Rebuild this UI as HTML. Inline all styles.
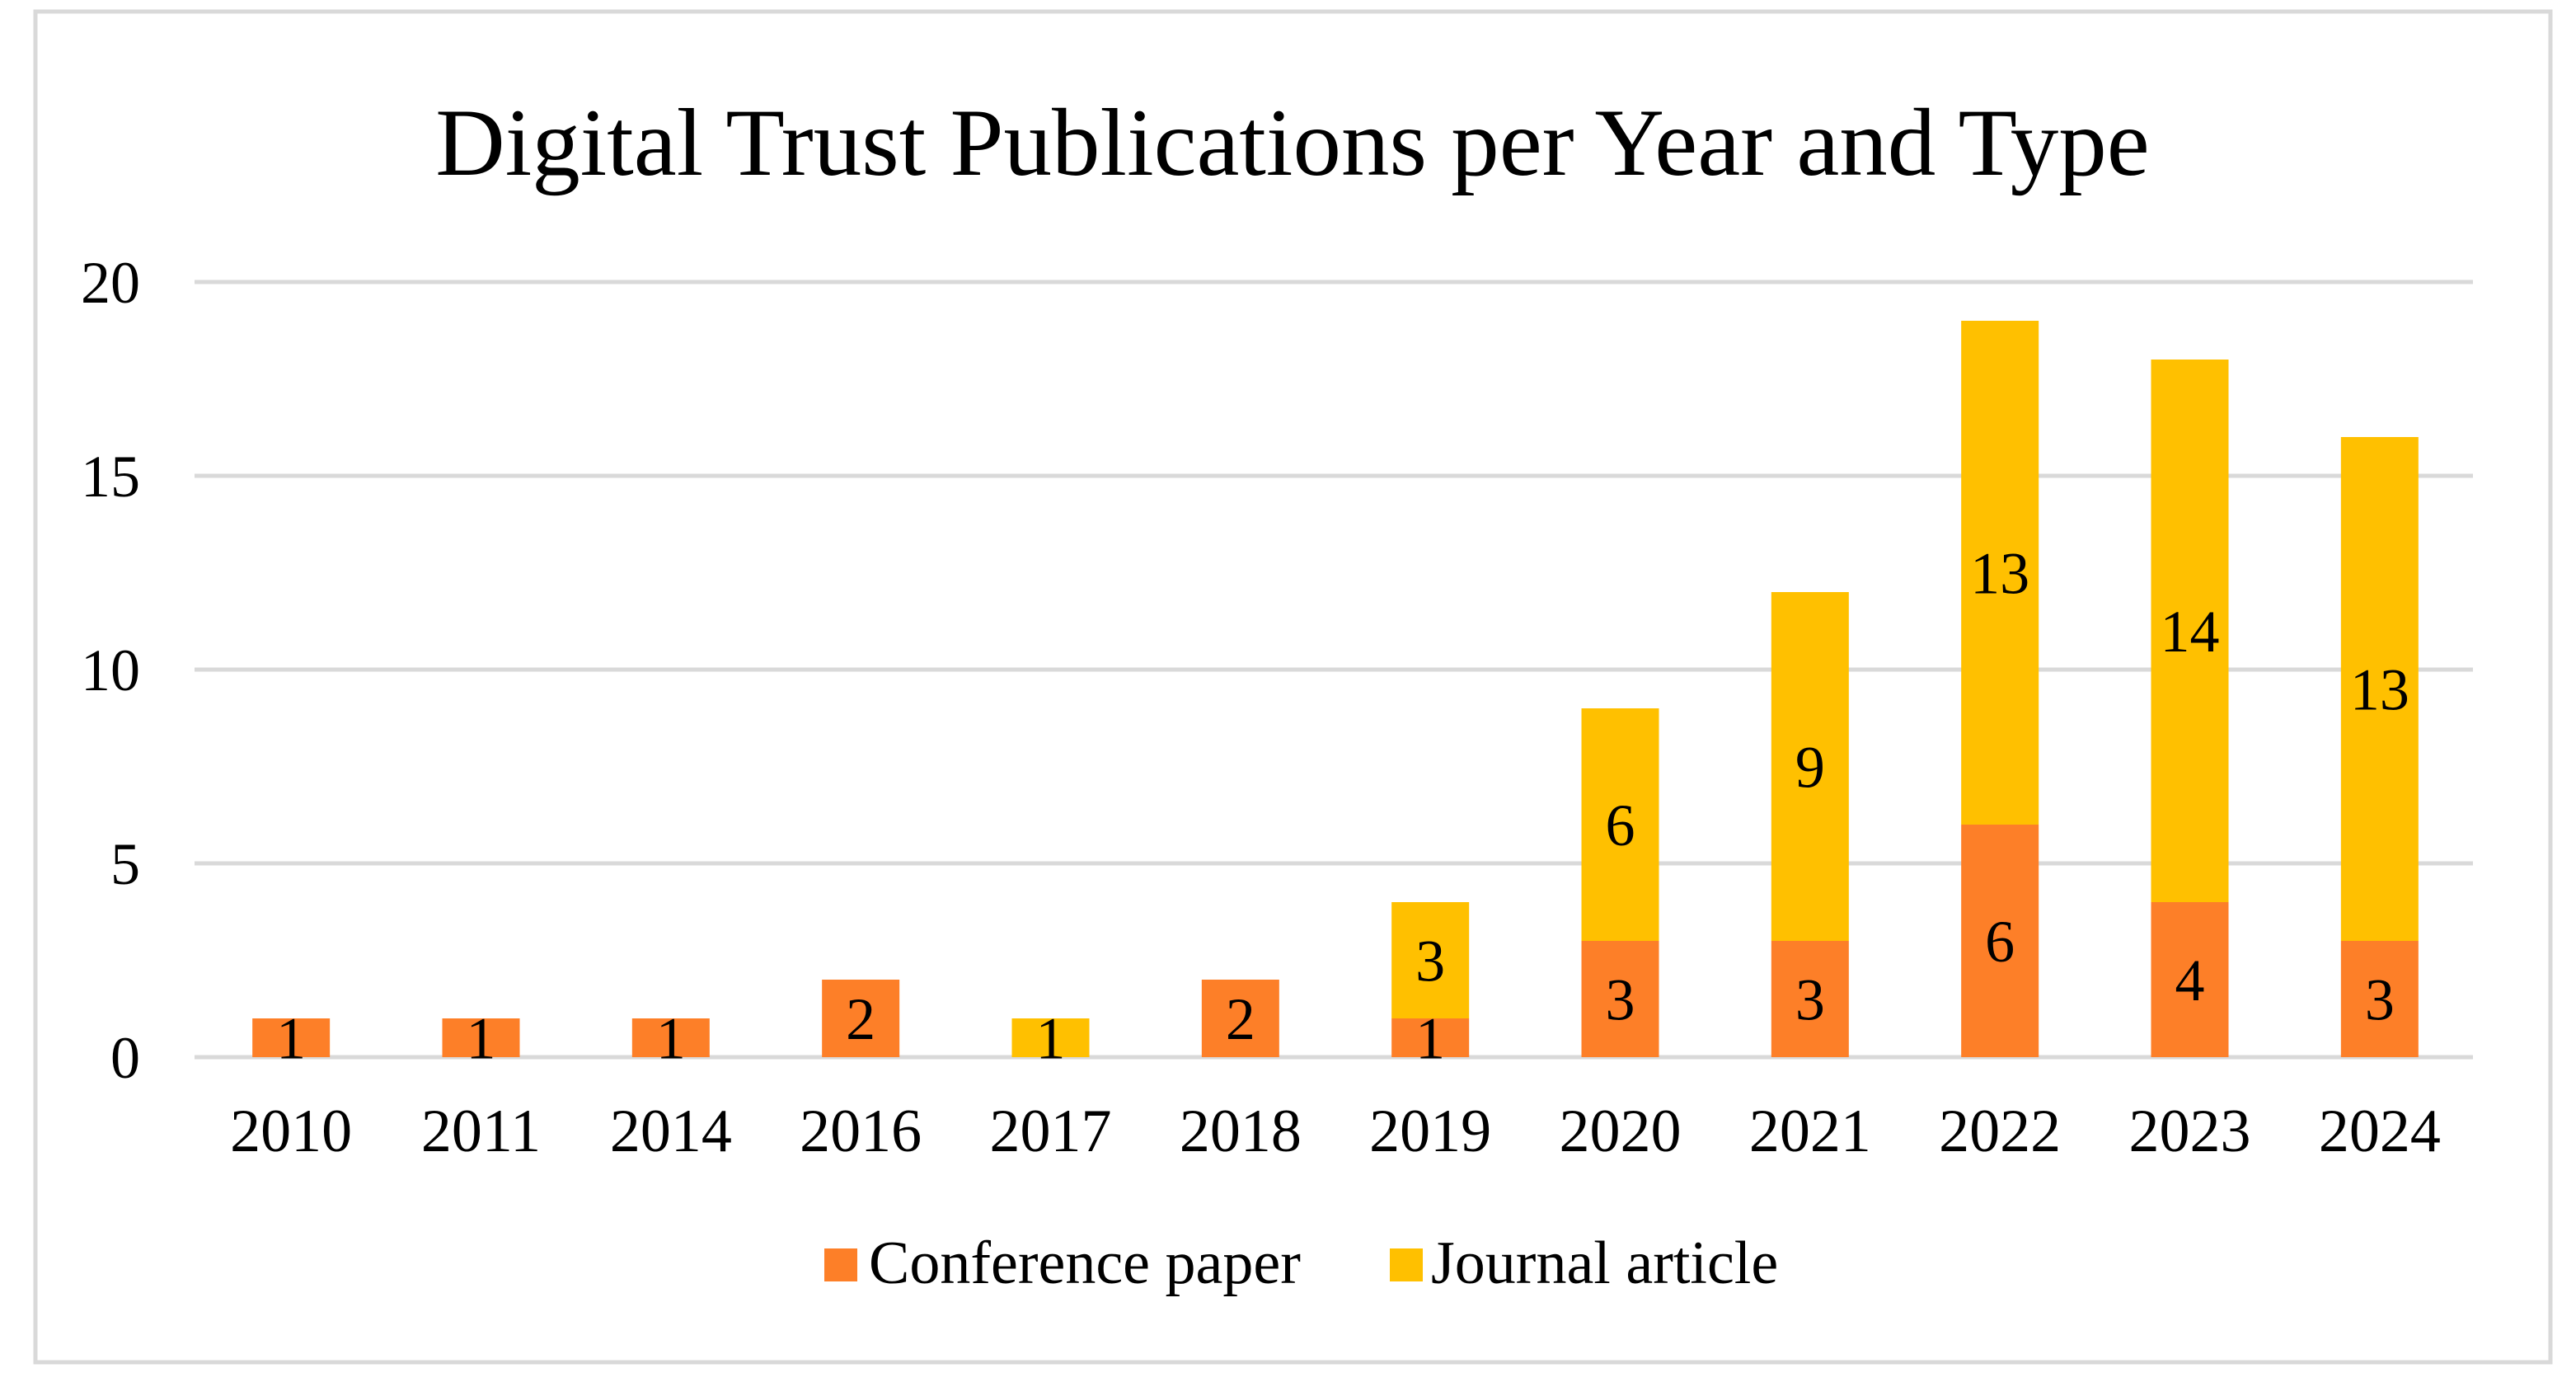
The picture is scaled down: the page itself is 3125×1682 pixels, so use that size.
<!DOCTYPE html>
<html><head><meta charset="utf-8"><style>
html,body{margin:0;padding:0;background:#fff;}
svg{display:block;font-family:"Liberation Serif",serif;}
</style></head><body>
<svg id="chart" width="3125" height="1682" viewBox="0 0 3125 1682" xmlns="http://www.w3.org/2000/svg">
<rect x="43" y="14" width="3051" height="1638" fill="#fff" stroke="#d9d9d9" stroke-width="5"/>
<text x="1568" y="212" text-anchor="middle" font-size="117" fill="#000">Digital Trust Publications per Year and Type</text>
<g id="grid"></g><g id="bars"></g><g id="labels"></g>
<g>
<rect x="1000" y="1514" width="40" height="40" fill="#fd7f28"/>
<text x="1054" y="1556" font-size="74">Conference paper</text>
<rect x="1686" y="1514" width="40" height="40" fill="#ffc000"/>
<text x="1736" y="1556" font-size="74">Journal article</text>
</g>
</svg>
<script>
const categories=["2010","2011","2014","2016","2017","2018","2019","2020","2021","2022","2023","2024"];
const conference=[1,1,1,2,0,2,1,3,3,6,4,3];
const journal=[0,0,0,0,1,0,3,6,9,13,14,13];
const yTicks=[0,5,10,15,20];
const NS="http://www.w3.org/2000/svg";
const X0=236,X1=3000,Y0=1282,Y20=342,YMAX=20;
const band=(X1-X0)/categories.length,bw=94;
function y(v){return Y0-(Y0-Y20)*v/YMAX;}
function xc(i){return X0+band*(i+0.5)+2;}
function mk(tag,attrs,parent,txt){const e=document.createElementNS(NS,tag);for(const k in attrs)e.setAttribute(k,attrs[k]);if(txt!==undefined)e.textContent=txt;parent.appendChild(e);return e;}
const grid=document.getElementById('grid'),bars=document.getElementById('bars'),labels=document.getElementById('labels');
yTicks.forEach(t=>{
 const l=mk('line',{x1:X0,x2:X1,y1:y(t),y2:y(t),stroke:'#d9d9d9','stroke-width':5},grid);
 
 
 const tx=mk('text',{x:170,y:y(t)+25,'text-anchor':'end','font-size':72},grid,String(t));
 
 
});
categories.forEach((c,i)=>{
 const cx=xc(i);
 const tl=mk('text',{x:cx,y:1396,'text-anchor':'middle','font-size':74},labels,c);
 
 
 const cv=conference[i],jv=journal[i];
 if(cv>0){
  const r=mk('rect',{x:cx-bw/2,y:y(cv),width:bw,height:y(0)-y(cv),fill:'#fd7f28'},bars);
  
  
  const t=mk('text',{x:cx,y:(y(cv)+y(0))/2+25,'text-anchor':'middle','font-size':72},labels,String(cv));
  
  
 }
 if(jv>0){
  const r=mk('rect',{x:cx-bw/2,y:y(cv+jv),width:bw,height:y(cv)-y(cv+jv),fill:'#ffc000'},bars);
  
  
  const t=mk('text',{x:cx,y:(y(cv+jv)+y(cv))/2+25,'text-anchor':'middle','font-size':72},labels,String(jv));
  
  
 }
});
</script>
</body></html>
